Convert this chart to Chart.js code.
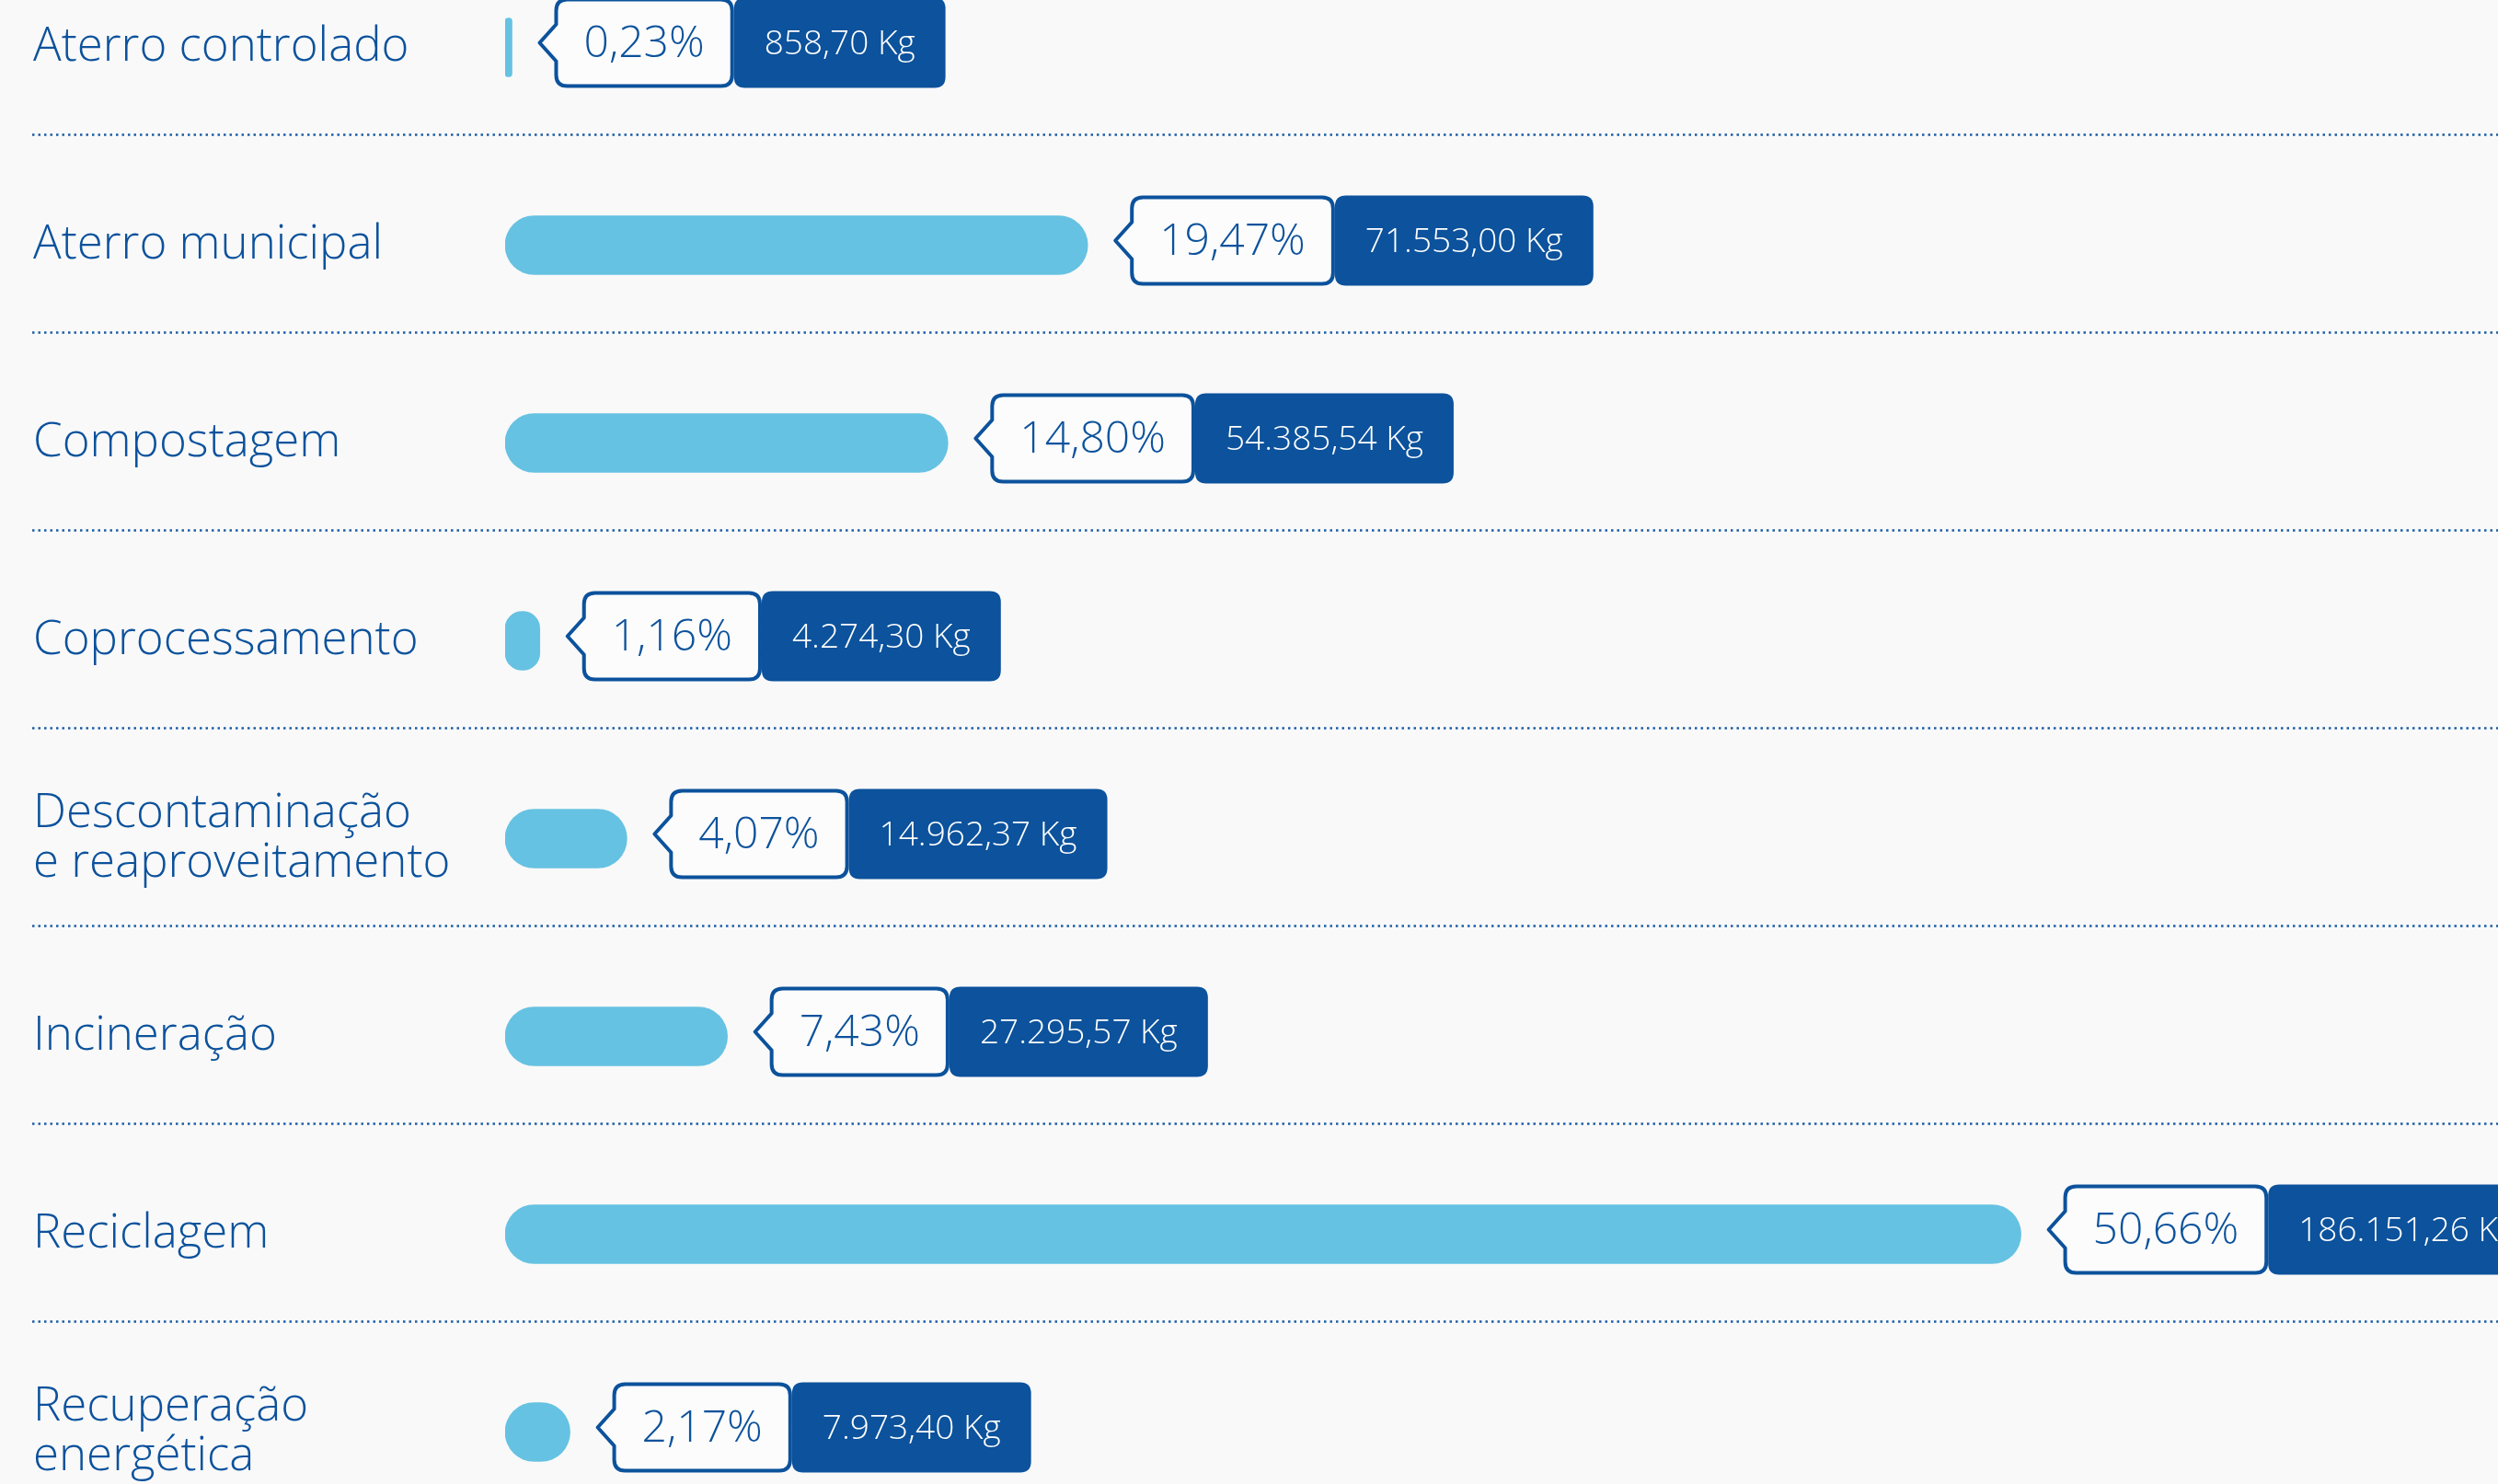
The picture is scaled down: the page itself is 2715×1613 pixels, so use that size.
<!DOCTYPE html>
<html>
<head>
<meta charset="utf-8">
<script src="https://cdn.jsdelivr.net/npm/chart.js@4.4.1/dist/chart.umd.min.js"></script>
<style>
  html, body { margin: 0; padding: 0; background: #f9f9f9; overflow: hidden; }
  body { width: 2715px; height: 1613px; position: relative; }
  .wrap { position: absolute; left: 0; top: -56px; width: 2715px; height: 1720px; }
</style>
</head>
<body>
<div class="wrap"><canvas id="destChart"></canvas></div>
<script>
var CATEGORIES = [
  'Aterro controlado',
  'Aterro municipal',
  'Compostagem',
  'Coprocessamento',
  ['Descontaminação', 'e reaproveitamento'],
  'Incineração',
  'Reciclagem',
  ['Recuperação', 'energética'],
];
var PERCENTS = [0.23, 19.47, 14.80, 1.16, 4.07, 7.43, 50.66, 2.17];
var WEIGHTS_KG = [858.70, 71553.00, 54385.54, 4274.30, 14962.37, 27295.57, 186151.26, 7973.40];

var FONT = "'Open Sans', sans-serif";
var DARK = '#0c529c';
var BAR = '#66c2e2';

// pt-BR style number: 186.151,26
function fmtBr(n) {
  var parts = Number(n).toFixed(2).split('.');
  var int = parts[0].replace(/\B(?=(\d{3})+(?!\d))/g, '.');
  return int + ',' + parts[1];
}

function roundRect(ctx, x, y, w, h, r) {
  ctx.beginPath();
  ctx.moveTo(x + r, y);
  ctx.lineTo(x + w - r, y);
  ctx.quadraticCurveTo(x + w, y, x + w, y + r);
  ctx.lineTo(x + w, y + h - r);
  ctx.quadraticCurveTo(x + w, y + h, x + w - r, y + h);
  ctx.lineTo(x + r, y + h);
  ctx.quadraticCurveTo(x, y + h, x, y + h - r);
  ctx.lineTo(x, y + r);
  ctx.quadraticCurveTo(x, y, x + r, y);
  ctx.closePath();
}

function tagPath(ctx, x, y, w, h, r, notchH, notchD) {
  var cy = y + h / 2;
  ctx.beginPath();
  ctx.moveTo(x + r, y);
  ctx.lineTo(x + w - r, y);
  ctx.quadraticCurveTo(x + w, y, x + w, y + r);
  ctx.lineTo(x + w, y + h - r);
  ctx.quadraticCurveTo(x + w, y + h, x + w - r, y + h);
  ctx.lineTo(x + r, y + h);
  ctx.quadraticCurveTo(x, y + h, x, y + h - r);
  ctx.lineTo(x, cy + notchH / 2);
  ctx.lineTo(x - notchD, cy);
  ctx.lineTo(x, cy - notchH / 2);
  ctx.lineTo(x, y + r);
  ctx.quadraticCurveTo(x, y, x + r, y);
  ctx.closePath();
}

var separators = {
  id: 'separators',
  beforeDatasetsDraw: function (chart) {
    var ctx = chart.ctx;
    var y = chart.scales.y;
    var band = y.getPixelForValue(1) - y.getPixelForValue(0);
    ctx.save();
    ctx.strokeStyle = '#1d5ea6';
    ctx.lineWidth = 2.5;
    ctx.setLineDash([2.5, 4]);
    for (var i = 0; i < CATEGORIES.length - 1; i++) {
      var py = Math.round(y.getPixelForValue(i) + band * 0.44) + 0.5;
      ctx.beginPath();
      ctx.moveTo(35, py);
      ctx.lineTo(chart.width, py);
      ctx.stroke();
    }
    ctx.restore();
  },
};

var tags = {
  id: 'tags',
  afterDatasetsDraw: function (chart) {
    var ctx = chart.ctx;
    var meta = chart.getDatasetMeta(0);
    ctx.save();
    for (var i = 0; i < meta.data.length; i++) {
      var bar = meta.data[i];
      var cy = bar.y - 5;
      var h = 94;
      var top = cy - h / 2;

      var pctText = fmtBr(PERCENTS[i]) + '%';
      ctx.font = '300 48px ' + FONT;
      var pw = ctx.measureText(pctText).width + 60;
      var px = bar.x + 48;
      tagPath(ctx, px, top, pw, h, 12, 40, 18);
      ctx.fillStyle = '#fcfcfc';
      ctx.fill();
      ctx.lineWidth = 4;
      ctx.lineJoin = 'round';
      ctx.strokeStyle = DARK;
      ctx.stroke();
      ctx.fillStyle = DARK;
      ctx.textAlign = 'center';
      ctx.textBaseline = 'middle';
      ctx.fillText(pctText, px + pw / 2, cy + 2);

      var kgText = fmtBr(WEIGHTS_KG[i]) + ' Kg';
      ctx.font = '300 37px ' + FONT;
      var kw = ctx.measureText(kgText).width + 66;
      var kx = px + pw + 4;
      roundRect(ctx, kx - 2, top - 2, kw, h + 4, 12);
      ctx.fillStyle = DARK;
      ctx.fill();
      ctx.fillStyle = '#ffffff';
      ctx.fillText(kgText, kx - 2 + kw / 2, cy + 2);
    }
    ctx.restore();
  },
};

new Chart(document.getElementById('destChart'), {
  type: 'bar',
  data: {
    labels: CATEGORIES,
    datasets: [
      {
        data: PERCENTS,
        backgroundColor: BAR,
        barThickness: 64,
        borderRadius: 32,
        borderSkipped: false,
      },
    ],
  },
  options: {
    indexAxis: 'y',
    responsive: true,
    maintainAspectRatio: false,
    animation: false,
    layout: { padding: { left: 36, right: 0, top: 0, bottom: 0 } },
    plugins: {
      legend: { display: false },
      tooltip: { enabled: false },
    },
    scales: {
      x: {
        display: false,
        min: 0,
        max: 66.6,
      },
      y: {
        afterFit: function (scale) {
          scale.width = 513;
          scale.paddingTop = 0;
          scale.paddingBottom = 0;
        },
        grid: { display: false },
        border: { display: false },
        ticks: {
          crossAlign: 'far',
          color: DARK,
          font: { family: FONT, size: 51, weight: '300', lineHeight: 1.06 },
        },
      },
    },
  },
  plugins: [separators, tags],
});
</script>
</body>
</html>
